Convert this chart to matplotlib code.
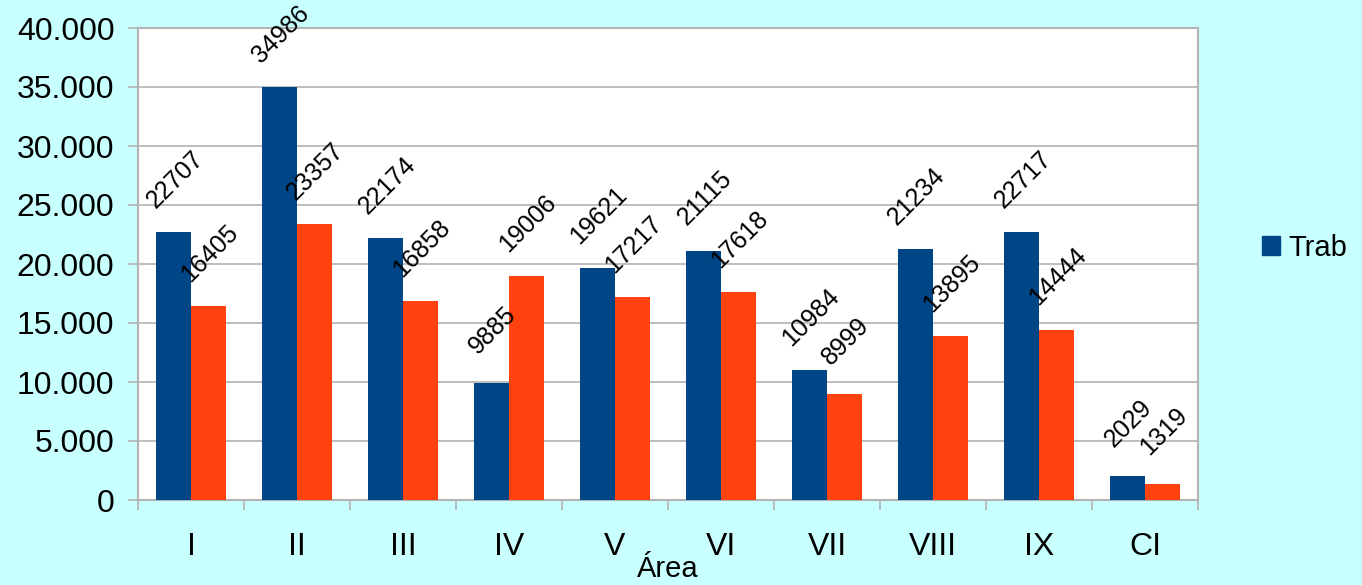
import matplotlib.pyplot as plt
from matplotlib.patches import Patch
import numpy as np

areas = ["I", "II", "III", "IV", "V", "VI", "VII", "VIII", "IX", "CI"]
trab = [22707, 34986, 22174, 9885, 19621, 21115, 10984, 21234, 22717, 2029]
other = [16405, 23357, 16858, 19006, 17217, 17618, 8999, 13895, 14444, 1319]

blue = "#004586"
orange = "#ff420e"
bg = "#c8ffff"
grey = "#b3b3b3"

plt.rcParams['font.family'] = ['Liberation Sans', 'DejaVu Sans']

fig = plt.figure(figsize=(13.62, 5.85), dpi=100, facecolor=bg)
ax = fig.add_axes([138/1362, 85/585, 1060/1362, 472/585])
ax.set_facecolor("white")

x = np.arange(len(areas))
w = 0.33
b1 = ax.bar(x - w/2, trab, w, color=blue, zorder=3)
b2 = ax.bar(x + w/2, other, w, color=orange, zorder=3)

# rotated value labels above bars
for bars, vals in ((b1, trab), (b2, other)):
    for r, v in zip(bars, vals):
        ax.annotate(str(v), (r.get_x() + r.get_width()/2, v), xytext=(1, 38),
                    textcoords="offset points", ha="center", va="center",
                    rotation=45, fontsize=18, zorder=5)

ax.set_xlim(-0.5, len(areas) - 0.5)
ax.set_ylim(0, 40000)
ax.set_yticks(np.arange(0, 40001, 5000))
ax.set_yticklabels(["0" if v == 0 else f"{v:,}".replace(",", ".") for v in range(0, 40001, 5000)])
ax.yaxis.grid(True, color=grey, linewidth=1.2, zorder=0)

ax.set_xticks(np.arange(-0.5, len(areas)), labels=[""] * (len(areas) + 1))
ax.set_xticks(x, labels=areas, minor=True)
ax.tick_params(axis="x", which="major", length=7, color=grey, width=1.2)
ax.tick_params(axis="x", which="minor", length=0, pad=23, labelsize=23)
ax.tick_params(axis="y", length=7, color=grey, width=1.2, labelsize=23, pad=10)

for s in ax.spines.values():
    s.set_color(grey)
    s.set_linewidth(1.5)

ax.set_xlabel("Área", fontsize=21, labelpad=-5)

fig.legend(handles=[Patch(color=blue, label="Trab")], loc="center left",
           bbox_to_anchor=(1262/1362, 1 - 248/585), frameon=False,
           fontsize=21, handlelength=0.6, handleheight=0.6, handletextpad=0.3,
           borderpad=0, borderaxespad=0)

fig.savefig("out.png", dpi=100, facecolor=bg)
